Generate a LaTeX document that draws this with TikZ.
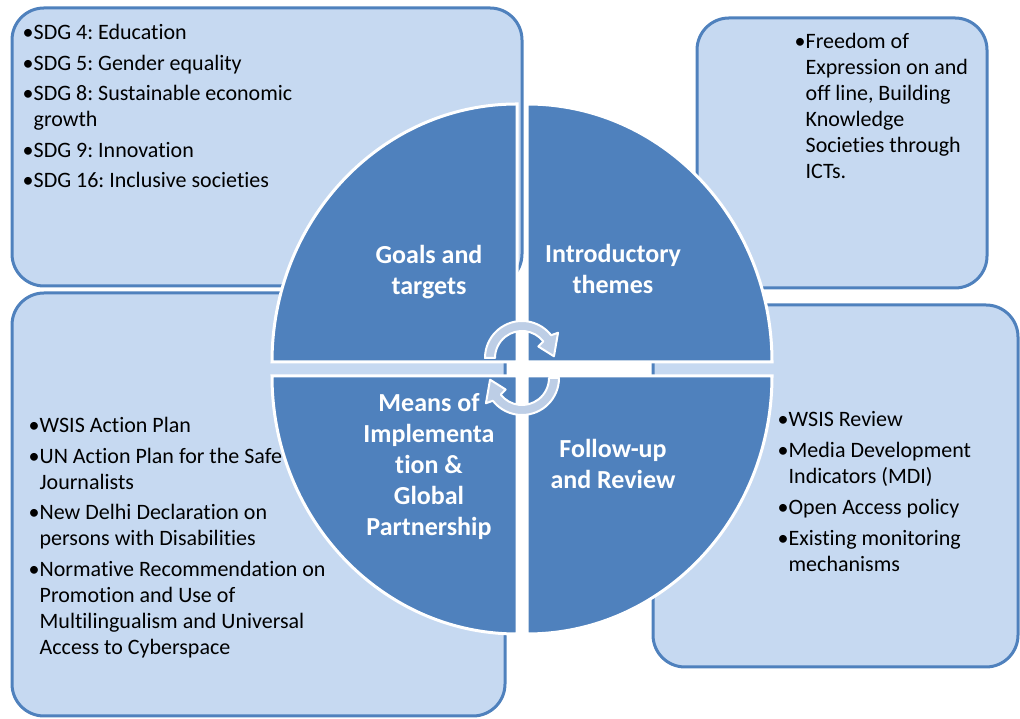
\documentclass[tikz,border=0pt]{standalone}
\usepackage{fontspec}
\setmainfont{Carlito}[Ligatures={NoCommon,NoContextual}, RawFeature={-liga;-clig;-calt;-dlig}]
\usetikzlibrary{positioning}
\frenchspacing

\definecolor{boxfill}{HTML}{C6D9F1}
\definecolor{boxline}{HTML}{4F81BD}
\definecolor{quadblue}{HTML}{4F81BD}
\definecolor{cyclefill}{HTML}{BDCEE6}

\newcommand{\cont}{\hphantom{\textbullet}}

\tikzset{
  infobox/.style={draw=boxline, line width=3pt, fill=boxfill, rounded corners=32pt, inner sep=0pt},
  listtext/.style={font=\fontsize{22}{26}\selectfont, align=left, inner sep=0pt},
  quarter/.style={fill=quadblue, draw=white, line width=3pt},
  quadtext/.style={text=white, font=\bfseries\fontsize{26}{31}\selectfont, align=center, inner sep=0pt},
  cyclearrow/.style={fill=cyclefill, draw=white, line width=2pt, line join=round}
}

\begin{document}
\begin{tikzpicture}[x=1pt,y=1pt]
	\useasboundingbox (0,0) rectangle (1020,719);
	% the four boxes
	\node[infobox, minimum width=510pt, minimum height=278pt] (goalsbox)  at (267,572)     {};
	\node[infobox, minimum width=290pt, minimum height=270pt] (introbox)  at (842,566)     {};
	\node[infobox, minimum width=493pt, minimum height=423pt] (meansbox)  at (258.5,214.5) {};
	\node[infobox, minimum width=365pt, minimum height=362pt] (reviewbox) at (835.5,233)   {};

	% lists
	\node[listtext, below right=18pt and 12pt of goalsbox.north west] (goalslist)
		{\textbullet SDG 4: Education\\[4.5pt]
		 \textbullet SDG 5: Gender equality\\[4.5pt]
		 \textbullet SDG 8: Sustainable economic\\
		 \cont growth\\[4.5pt]
		 \textbullet SDG 9: Innovation\\[4.5pt]
		 \textbullet SDG 16: Inclusive societies};
	\node[listtext, below right=17pt and 99pt of introbox.north west] (introlist)
		{\textbullet Freedom of\\
		 \cont Expression on and\\
		 \cont off line, Building\\
		 \cont Knowledge\\
		 \cont Societies through\\
		 \cont ICTs.};
	\node[listtext, below right=126pt and 18pt of meansbox.north west] (meanslist)
		{\textbullet WSIS Action Plan\\[4.5pt]
		 \textbullet UN Action Plan for the Safe\\
		 \cont Journalists\\[4.5pt]
		 \textbullet New Delhi Declaration on\\
		 \cont persons with Disabilities\\[4.5pt]
		 \textbullet Normative Recommendation on\\
		 \cont Promotion and Use of\\
		 \cont Multilingualism and Universal\\
		 \cont Access to Cyberspace};
	\node[listtext, below right=108pt and 126pt of reviewbox.north west] (reviewlist)
		{\textbullet WSIS Review\\[5pt]
		 \textbullet Media Development\\
		 \cont Indicators (MDI)\\[5pt]
		 \textbullet Open Access policy\\[5pt]
		 \textbullet Existing monitoring\\
		 \cont mechanisms};

	% circle in four quarters
	\draw[quarter] (517,357) -- (272,357) arc[start angle=180, end angle=90,  x radius=245, y radius=258] -- cycle;
	\draw[quarter] (527,357) -- (527,615) arc[start angle=90,  end angle=0,   x radius=245, y radius=258] -- cycle;
	\draw[quarter] (517,343) -- (517,85)  arc[start angle=270, end angle=180, x radius=245, y radius=258] -- cycle;
	\draw[quarter] (527,343) -- (772,343) arc[start angle=0,   end angle=-90, x radius=245, y radius=258] -- cycle;

	\node[quadtext] (goals)  at (429,447) {Goals and\\targets};
	\node[quadtext] (intro)  at (613,450) {Introductory\\themes};
	\node[quadtext] (means)  at (429,252) {Means of\\Implementa\\tion \&\\Global\\Partnership};
	\node[quadtext] (review) at (613,255) {Follow-up\\and Review};

	% cycle arrows
	\coordinate (hub) at (522,351);
	\foreach \turn in {0,180}{
		\begin{scope}[shift={(hub)}, rotate=\turn, yshift=10pt]
			\draw[cyclearrow] (180:37) arc[start angle=180, end angle=38, radius=37]
				-- (35:44) -- (3:32) -- (35:20) -- (38:27)
				arc[start angle=38, end angle=180, radius=27] -- cycle;
		\end{scope}
	}
\end{tikzpicture}
\end{document}
